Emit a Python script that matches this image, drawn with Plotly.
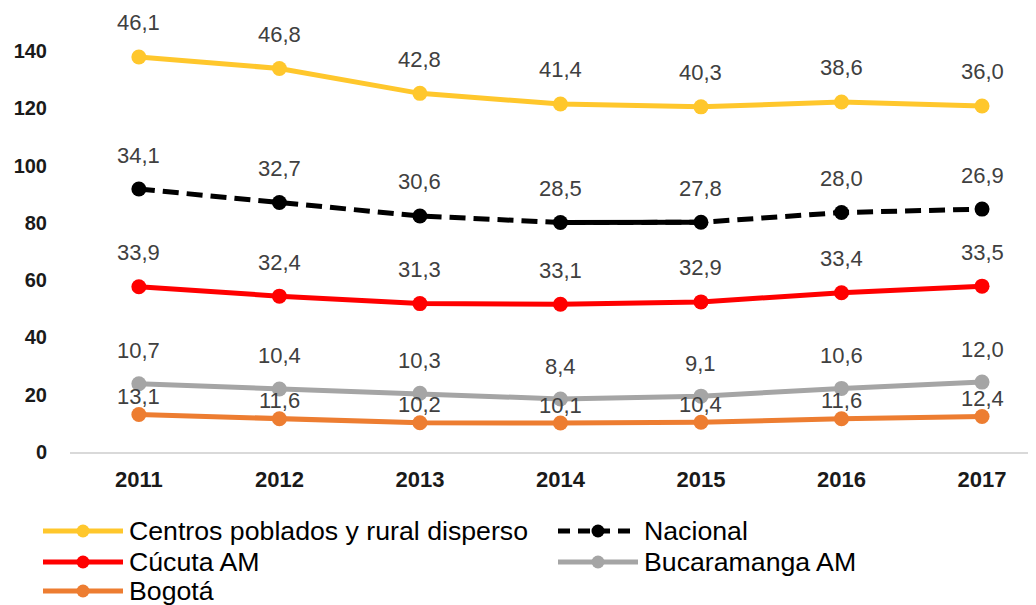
import numpy as np
import plotly.graph_objects as go

years = ["2011", "2012", "2013", "2014", "2015", "2016", "2017"]

bogota = [13.1, 11.6, 10.2, 10.1, 10.4, 11.6, 12.4]
bucaramanga = [10.7, 10.4, 10.3, 8.4, 9.1, 10.6, 12.0]
cucuta = [33.9, 32.4, 31.3, 33.1, 32.9, 33.4, 33.5]
nacional = [34.1, 32.7, 30.6, 28.5, 27.8, 28.0, 26.9]
centros = [46.1, 46.8, 42.8, 41.4, 40.3, 38.6, 36.0]

# stacking order, bottom to top: (name, values, color, dash, label shift)
series = [
    ("Bogotá", bogota, "#ED7D31", "solid", 18),
    ("Bucaramanga AM", bucaramanga, "#A5A5A5", "solid", 33),
    ("Cúcuta AM", cucuta, "#FF0000", "solid", 34),
    ("Nacional", nacional, "#000000", "16px,8px", 34),
    ("Centros poblados y rural disperso", centros, "#FFC72C", "solid", 34),
]

# page body has an 8px margin, so the figure is sized to fill the rest
OFF = 8
W, H = 1036 - OFF, 605 - OFF
ML, MR, MT, MB = 62, 0, 0, 153
PW, PH = W - ML - MR, H - MT - MB

FONT = "Liberation Sans, Arial, sans-serif"
fig = go.Figure()
annotations = []
shapes = []
cum = np.zeros(len(years))
for name, vals, color, dash, shift in series:
    cum = cum + np.array(vals)
    fig.add_trace(go.Scatter(
        x=years, y=cum, name=name, mode="lines+markers",
        line=dict(color=color, width=5, dash=dash),
        marker=dict(color=color, size=15),
        showlegend=False, cliponaxis=False,
    ))
    if name == "Nacional":
        # solid segment between 2014 and 2015 as in the original
        fig.add_trace(go.Scatter(
            x=years[3:5], y=cum[3:5], mode="lines", showlegend=False,
            line=dict(color=color, width=5),
        ))
    for i, (v, c) in enumerate(zip(vals, cum)):
        annotations.append(dict(
            x=i, y=float(c), xref="x", yref="y",
            text=f"{v:.1f}".replace(".", ","), showarrow=False,
            yshift=shift, font=dict(family=FONT, size=22, color="#404040"),
        ))

# custom legend (two columns, long line symbols); positions in window px
legend_order = [
    "Centros poblados y rural disperso", "Nacional",
    "Cúcuta AM", "Bucaramanga AM", "Bogotá",
]
style = {s[0]: s for s in series}
col_x = [43, 558]
row_y = [531, 562, 591]
line_len = 80


def px_x(p):
    return (p - OFF - ML) / PW


def px_y(p):
    return (H - MB - (p - OFF)) / PH


for k, name in enumerate(legend_order):
    _, _, color, dash, _ = style[name]
    x0 = col_x[k % 2]
    yy = row_y[k // 2]
    ldash = "solid" if dash == "solid" else "12px,8px"
    shapes.append(dict(
        type="line", xref="paper", yref="paper",
        x0=px_x(x0), x1=px_x(x0 + line_len), y0=px_y(yy), y1=px_y(yy),
        line=dict(color=color, width=5, dash=ldash), layer="above",
    ))
    r = 6.5
    cx = x0 + line_len / 2
    shapes.append(dict(
        type="circle", xref="paper", yref="paper",
        x0=px_x(cx - r), x1=px_x(cx + r), y0=px_y(yy - r), y1=px_y(yy + r),
        line=dict(color=color, width=0), fillcolor=color, layer="above",
    ))
    annotations.append(dict(
        x=px_x(x0 + line_len + 4), y=px_y(yy), xref="paper", yref="paper",
        xanchor="left", yanchor="middle", text=name, showarrow=False,
        font=dict(family=FONT, size=26.7, color="#000000"),
    ))

fig.update_layout(
    width=W, height=H,
    margin=dict(l=ML, r=MR, t=MT, b=MB, autoexpand=False),
    plot_bgcolor="white", paper_bgcolor="white",
    font=dict(family=FONT),
    annotations=annotations,
    shapes=shapes,
    showlegend=False,
    xaxis=dict(
        type="category", range=[-0.49, 6.384], showgrid=False,
        showline=True, linecolor="#D9D9D9", linewidth=2,
        ticks="", ticklabelstandoff=7,
        tickfont=dict(family=FONT, size=22, color="#1a1a1a", weight="bold"),
    ),
    yaxis=dict(
        range=[0, 155], tickvals=[0, 20, 40, 60, 80, 100, 120, 140],
        showgrid=False, zeroline=False, showline=False, ticks="",
        ticklabelstandoff=22,
        tickfont=dict(family=FONT, size=20, color="#1a1a1a", weight="bold"),
    ),
)

fig.write_html("out.html")
